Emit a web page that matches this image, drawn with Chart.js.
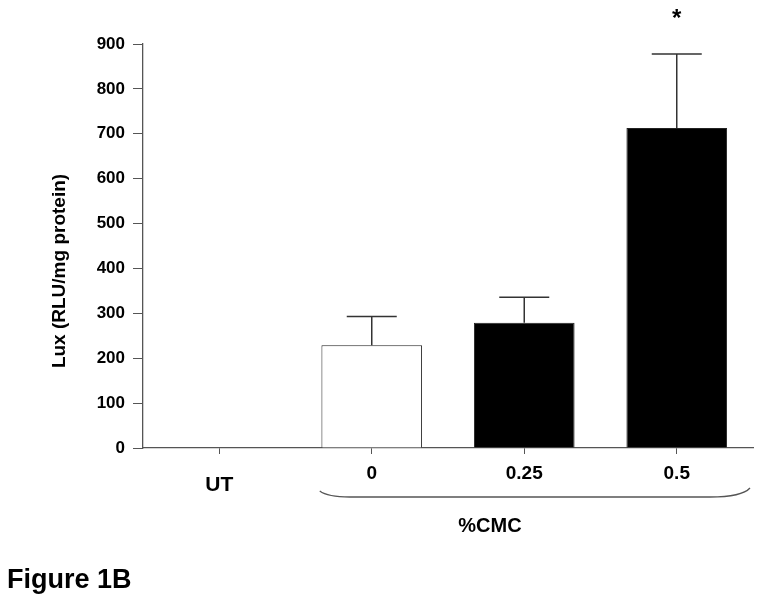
<!DOCTYPE html>
<html>
<head>
<meta charset="utf-8">
<script src="https://cdn.jsdelivr.net/npm/chart.js@4.4.1/dist/chart.umd.min.js"></script>
<style>
  body { margin: 0; background: #fff; }
  #wrap { width: 762px; height: 604px; }
</style>
</head>
<body>
<div id="wrap"><canvas id="grafica" width="762" height="604"></canvas></div>
<script>
const $grafica = document.querySelector("#grafica");

const etiquetas = ["UT", "0", "0.25", "0.5"];
const valores = [1, 229, 279, 713];
const errores = [0, 64, 57, 165];
const relleno = ["#ffffff", "#ffffff", "#000000", "#000000"];
const marcas = ["", "", "", "*"];
const ticksY = [0, 100, 200, 300, 400, 500, 600, 700, 800, 900];

const fuente = "'Liberation Sans', Arial, sans-serif";

// barras de error, llave de %CMC y textos sueltos
const extras = {
    id: "extras",
    afterDatasetsDraw(chart) {
        const { ctx, scales: { x, y } } = chart;
        ctx.save();
        ctx.strokeStyle = "#333";
        ctx.lineWidth = 1.5;
        valores.forEach((v, i) => {
            if (!errores[i]) return;
            const cx = x.getPixelForValue(i);
            const y0 = y.getPixelForValue(v);
            const y1 = y.getPixelForValue(v + errores[i]);
            ctx.beginPath();
            ctx.moveTo(cx, y0);
            ctx.lineTo(cx, y1);
            ctx.moveTo(cx - 25, y1);
            ctx.lineTo(cx + 25, y1);
            ctx.stroke();
            if (marcas[i]) {
                ctx.fillStyle = "#000";
                ctx.font = "bold 24px " + fuente;
                ctx.textAlign = "center";
                ctx.textBaseline = "middle";
                ctx.fillText(marcas[i], cx, y1 - 35);
            }
        });

        // llave
        const xa = x.getPixelForValue(1) - 52;
        const xb = x.right - 3;
        const yb = 497;
        ctx.strokeStyle = "#555";
        ctx.lineWidth = 1.3;
        ctx.beginPath();
        ctx.moveTo(xa, yb - 6);
        ctx.quadraticCurveTo(xa + 8, yb, xa + 30, yb);
        ctx.lineTo(xb - 40, yb);
        ctx.quadraticCurveTo(xb - 8, yb, xb, yb - 9);
        ctx.stroke();

        ctx.fillStyle = "#000";
        ctx.textAlign = "center";
        ctx.textBaseline = "middle";
        ctx.font = "bold 21px " + fuente;
        ctx.fillText("UT", x.getPixelForValue(0), 485);
        ctx.font = "bold 20px " + fuente;
        ctx.fillText("%CMC", 490, 526);

        ctx.save();
        ctx.translate(60, 271);
        ctx.rotate(-Math.PI / 2);
        ctx.font = "bold 19px " + fuente;
        ctx.fillText("Lux (RLU/mg protein)", 0, 0);
        ctx.restore();

        ctx.textAlign = "left";
        ctx.font = "bold 27px " + fuente;
        ctx.fillText("Figure 1B", 7, 581);
        ctx.restore();
    }
};

new Chart($grafica, {
    type: "bar",
    data: {
        labels: etiquetas,
        datasets: [{
            data: valores,
            backgroundColor: relleno,
            borderColor: "#222",
            borderWidth: 1,
            barPercentage: 0.66,
            categoryPercentage: 1.0,
        }]
    },
    options: {
        responsive: false,
        animation: false,
        layout: { padding: { left: 0, top: 44, right: 9, bottom: 0 } },
        plugins: { legend: { display: false }, tooltip: { enabled: false } },
        scales: {
            x: {
                afterFit: s => { s.height = 156; },
                grid: { display: true, drawOnChartArea: false, offset: false, tickLength: 6, color: "#555" },
                border: { color: "#555", width: 1.3 },
                ticks: {
                    color: "#000",
                    padding: 8,
                    font: { family: fuente, size: 19, weight: "bold" },
                    callback: (v, i) => (i === 0 ? "" : etiquetas[i]),
                },
            },
            y: {
                min: 0,
                max: 900,
                afterFit: s => { s.width = 143; },
                afterBuildTicks: s => { s.ticks = ticksY.map(v => ({ value: v })); },
                grid: { display: true, drawOnChartArea: false, tickLength: 10, color: "#555" },
                border: { color: "#555", width: 1.3 },
                ticks: {
                    color: "#000",
                    padding: 8,
                    font: { family: fuente, size: 17, weight: "bold" },
                },
            },
        },
    },
    plugins: [extras],
});
</script>
</body>
</html>
